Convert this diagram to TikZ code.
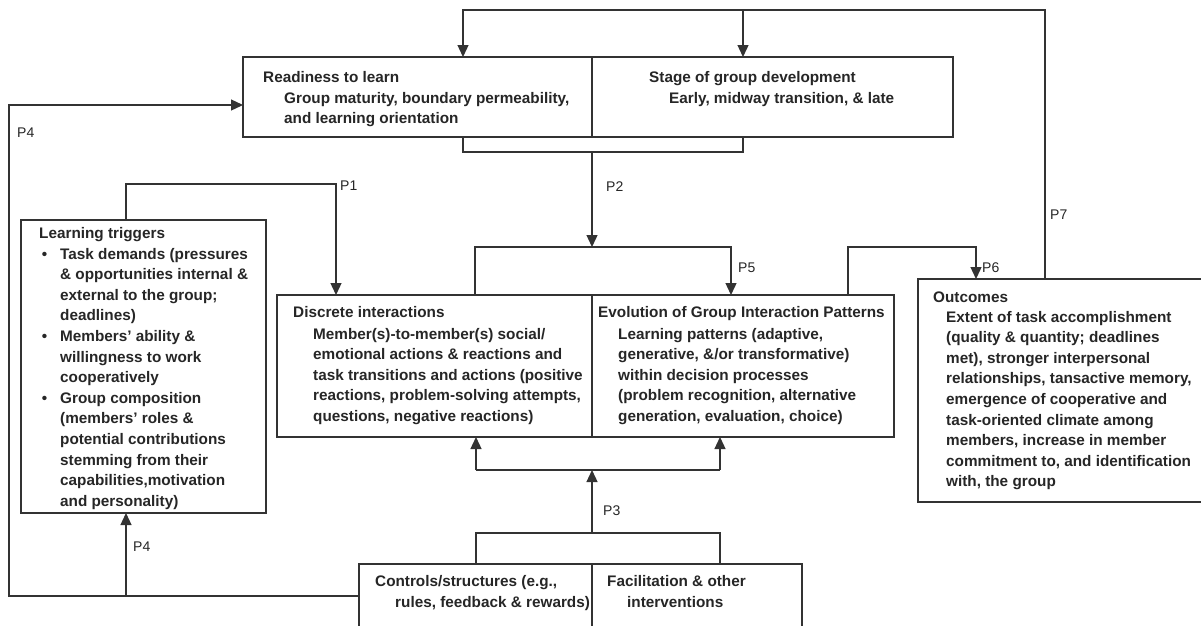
\documentclass[tikz,border=0pt]{standalone}
\usepackage{fontspec}
\setmainfont{Liberation Sans}
\usetikzlibrary{arrows.meta,calc}
\newcommand{\bul}{\leavevmode\llap{\textbullet\hspace{13pt}}}
\begin{document}
\begin{tikzpicture}[x=1pt,y=-1pt,
 box/.style={draw=black!80, line width=1.3pt, anchor=north west, inner sep=0, outer sep=0},
 ln/.style={draw=black!80, line width=1.3pt, line join=miter},
 arr/.style={ln, -{Triangle[length=12pt,width=11pt]}},
 txt/.style={font=\bfseries\fontsize{15.3}{20.6}\selectfont, text=black!85, inner sep=0, anchor=base west},
 lab/.style={font=\fontsize{14}{16}\selectfont, text=black!85, inner sep=0, anchor=base west}]
\useasboundingbox (0,0) rectangle (1201,625);
\fill[white] (0,0) rectangle (1201,625);
\clip (0,0) rectangle (1201,625);

% boxes
\node[box, minimum width=349pt, minimum height=80pt] (readiness) at (243,57) {};
\node[box, minimum width=361pt, minimum height=80pt] (stage) at (592,57) {};
\node[box, minimum width=245pt, minimum height=293pt] (triggers) at (21,220) {};
\node[box, minimum width=315pt, minimum height=142pt] (discrete) at (277,295) {};
\node[box, minimum width=302pt, minimum height=142pt] (evolution) at (592,295) {};
\node[box, minimum width=292pt, minimum height=223pt] (outcomes) at (918,279) {};
\node[box, minimum width=233pt, minimum height=75pt] (controls) at (359,564) {};
\node[box, minimum width=210pt, minimum height=75pt] (facil) at (592,564) {};

% texts
\node[txt] (readH) at (263,82) {Readiness to learn};
\node[txt] (readB) at (284,103) {\parbox[t]{400pt}{Group maturity, boundary permeability,\\and learning orientation}};
\node[txt] (stageH) at (649,82) {Stage of group development};
\node[txt] (stageB) at (669,103) {Early, midway transition, \& late};
\node[txt] (trigH) at (39,238) {Learning triggers};
\node[txt] (trigB) at (60,259) {\parbox[t]{300pt}{%
\bul Task demands (pressures\\
\& opportunities internal \&\\
external to the group;\\
deadlines)\\
\bul Members’ ability \&\\
willingness to work\\
cooperatively\\
\bul Group composition\\
(members’ roles \&\\
potential contributions\\
stemming from their\\
capabilities,motivation\\
and personality)}};
\node[txt] (discH) at (293,317) {Discrete interactions};
\node[txt] (discB) at (313,339) {\parbox[t]{400pt}{Member(s)-to-member(s) social/\\
emotional actions \& reactions and\\
task transitions and actions (positive\\
reactions, problem-solving attempts,\\
questions, negative reactions)}};
\node[txt] (evoH) at (598,317) {Evolution of Group Interaction Patterns};
\node[txt] (evoB) at (618,339) {\parbox[t]{400pt}{Learning patterns (adaptive,\\
generative, \&/or transformative)\\
within decision processes\\
(problem recognition, alternative\\
generation, evaluation, choice)}};
\node[txt] (outH) at (933,302) {Outcomes};
\node[txt] (outB) at (946,322) {\parbox[t]{400pt}{Extent of task accomplishment\\
(quality \& quantity; deadlines\\
met), stronger interpersonal\\
relationships, tansactive memory,\\
emergence of cooperative and\\
task-oriented climate among\\
members, increase in member\\
commitment to, and identification\\
with, the group}};
\node[txt] (ctrlH) at (375,586) {Controls/structures (e.g.,};
\node[txt] (ctrlB) at (395,607) {rules, feedback \& rewards)};
\node[txt] (facH) at (607,586) {Facilitation \& other};
\node[txt] (facB) at (627,607) {interventions};

% labels
\node[lab] (P1) at (340,190) {P1};
\node[lab] (P2) at (606,191) {P2};
\node[lab] (P5) at (738,272) {P5};
\node[lab] (P6) at (982,272) {P6};
\node[lab] (P7) at (1050,219) {P7};
\node[lab] (P3) at (603,515) {P3};
\node[lab] (P4a) at (17,137) {P4};
\node[lab] (P4b) at (133,551) {P4};

% connectors
\coordinate (t1) at (463,10); \coordinate (t2) at (743,10); \coordinate (t3) at (1045,10);
\draw[arr] (outcomes.north -| t3) -- (t3) -- (t1) -- (t1 |- readiness.north);
\draw[arr] (t2) -- (t2 |- stage.north);

\coordinate (b1) at (463,152); \coordinate (b2) at (743,152); \coordinate (b0) at (592,152);
\coordinate (m0) at (592,247); \coordinate (m1) at (475,247); \coordinate (m2) at (731,247);
\draw[ln] (b1 |- readiness.south) -- (b1) -- (b2) -- (b2 |- stage.south);
\draw[arr] (b0) -- (m0);
\draw[arr] (m1 |- discrete.north) -- (m1) -- (m2) -- (m2 |- evolution.north);

\coordinate (r1) at (848,247); \coordinate (r2) at (976,247);
\draw[arr] (r1 |- evolution.north) -- (r1) -- (r2) -- (r2 |- outcomes.north);

\coordinate (p1a) at (126,184); \coordinate (p1b) at (336,184);
\draw[arr] (p1a |- triggers.north) -- (p1a) -- (p1b) -- (p1b |- discrete.north);

\coordinate (l1) at (9,596); \coordinate (l2) at (9,105); \coordinate (l3) at (126,596);
\draw[arr] (controls.west |- l1) -- (l1) -- (l2) -- (l2 -| readiness.west);
\draw[arr] (l3) -- (l3 |- triggers.south);

\coordinate (q1) at (476,533); \coordinate (q2) at (720,533); \coordinate (q0) at (592,533);
\coordinate (h0) at (592,470); \coordinate (h1) at (476,470); \coordinate (h2) at (720,470);
\draw[ln] (q1 |- controls.north) -- (q1) -- (q2) -- (q2 |- facil.north);
\draw[arr] (q0) -- (h0);
\draw[ln] (h1) -- (h2);
\draw[arr] (h1) -- (h1 |- discrete.south);
\draw[arr] (h2) -- (h2 |- evolution.south);
\end{tikzpicture}
\end{document}
